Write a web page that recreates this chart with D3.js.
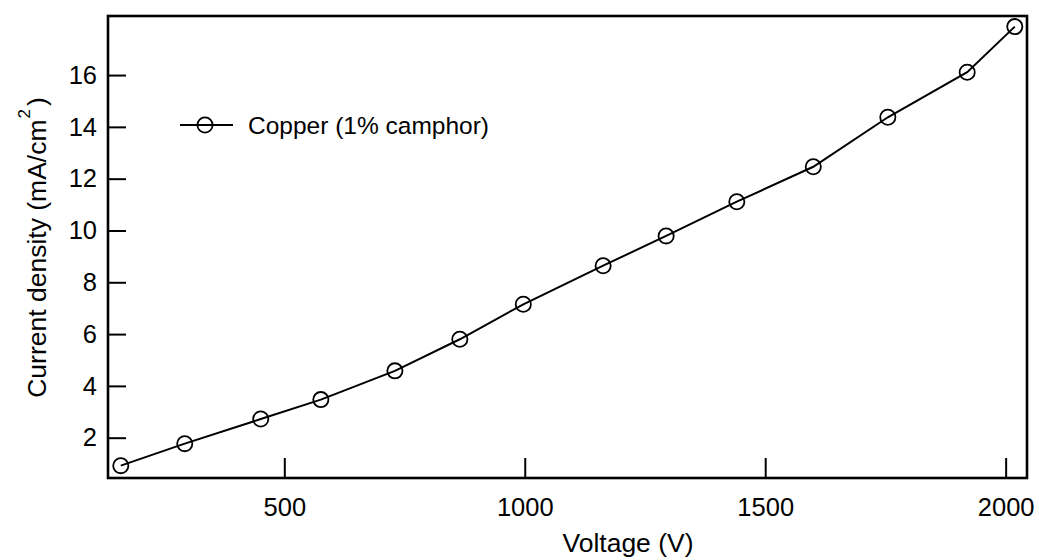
<!DOCTYPE html>
<html>
<head>
<meta charset="utf-8">
<script src="https://cdn.jsdelivr.net/npm/d3@7"></script>
<style>
  html, body { margin: 0; padding: 0; background: #fff; }
  svg { display: block; font-family: "Liberation Sans", Arial, sans-serif; }
</style>
</head>
<body>
<script>
// Current density vs. applied voltage, copper electrode with 1% camphor
const voltage = [160, 293, 451, 576, 730, 865, 997, 1163, 1294, 1441, 1600, 1755, 1920, 2019];
const currentDensity = [0.92, 1.77, 2.72, 3.47, 4.58, 5.80, 7.15, 8.64, 9.79, 11.11, 12.46, 14.37, 16.11, 17.87];
const xTicks = [500, 1000, 1500, 2000];
const yTicks = [2, 4, 6, 8, 10, 12, 14, 16];
const seriesName = "Copper (1% camphor)";
const xTitle = "Voltage (V)";
const yTitle = "Current density (mA/cm";

const W = 1039, H = 560;
const plot = { left: 108, top: 16, right: 1027, bottom: 478 };
const tickFont = 25.5, titleFont = 26.5, legendFont = 24.5;

const svg = d3.select("body").append("svg")
  .attr("width", W).attr("height", H);

const x = d3.scaleLinear().domain([133.4, 2044.4]).range([plot.left, plot.right]);
const y = d3.scaleLinear().domain([0.444, 18.28]).range([plot.bottom, plot.top]);

// x ticks point up into the plot, labels below the frame
const xAxis = d3.axisBottom(x).tickValues(xTicks).tickSize(-20).tickPadding(20)
  .tickFormat(d3.format("d"));
const gx = svg.append("g").attr("transform", `translate(0,${plot.bottom})`).call(xAxis);
gx.select(".domain").remove();
gx.selectAll(".tick line").attr("stroke", "#000").attr("stroke-width", 2);
gx.selectAll(".tick text").attr("font-size", tickFont).attr("fill", "#000")
  .attr("font-family", "Liberation Sans, Arial, sans-serif")
  .attr("dy", "0.71em");

// y ticks point right into the plot
const yAxis = d3.axisLeft(y).tickValues(yTicks).tickSize(-18).tickPadding(11);
const gy = svg.append("g").attr("transform", `translate(${plot.left},0)`).call(yAxis);
gy.select(".domain").remove();
gy.selectAll(".tick line").attr("stroke", "#000").attr("stroke-width", 2);
gy.selectAll(".tick text").attr("font-size", tickFont).attr("fill", "#000")
  .attr("font-family", "Liberation Sans, Arial, sans-serif");

// frame
svg.append("rect")
  .attr("x", plot.left).attr("y", plot.top)
  .attr("width", plot.right - plot.left).attr("height", plot.bottom - plot.top)
  .attr("fill", "none").attr("stroke", "#000").attr("stroke-width", 2.6);

// series line and open circle markers
const pts = voltage.map((v, i) => [v, currentDensity[i]]);
svg.append("path")
  .datum(pts)
  .attr("d", d3.line().x(d => x(d[0])).y(d => y(d[1])))
  .attr("fill", "none").attr("stroke", "#000").attr("stroke-width", 2);

svg.append("g").selectAll("circle").data(pts).join("circle")
  .attr("cx", d => x(d[0])).attr("cy", d => y(d[1]))
  .attr("r", 7.6).attr("fill", "none").attr("stroke", "#000").attr("stroke-width", 1.8);

// legend
const lg = svg.append("g");
lg.append("line").attr("x1", 180).attr("x2", 233).attr("y1", 125).attr("y2", 125)
  .attr("stroke", "#000").attr("stroke-width", 2);
lg.append("circle").attr("cx", 205).attr("cy", 125).attr("r", 7.6)
  .attr("fill", "none").attr("stroke", "#000").attr("stroke-width", 1.8);
lg.append("text").attr("x", 248).attr("y", 133.5)
  .attr("font-size", legendFont).attr("fill", "#000").text(seriesName);

// axis titles
svg.append("text").attr("x", 628).attr("y", 552)
  .attr("text-anchor", "middle").attr("font-size", titleFont).attr("fill", "#000")
  .text(xTitle);

const yt = svg.append("text")
  .attr("transform", "translate(46,247.5) rotate(-90)")
  .attr("text-anchor", "middle").attr("font-size", titleFont).attr("fill", "#000");
yt.append("tspan").text(yTitle);
yt.append("tspan").attr("font-size", 17).attr("dy", -16).attr("dx", 1).text("2");
yt.append("tspan").attr("dy", 16).attr("dx", 3).text(")");
</script>
</body>
</html>
